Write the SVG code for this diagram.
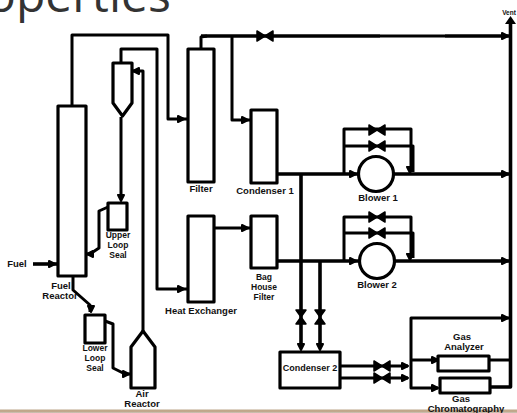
<svg xmlns="http://www.w3.org/2000/svg" width="517" height="413" viewBox="0 0 517 413">
<defs>
<linearGradient id="bar" x1="0" y1="0" x2="0" y2="1"><stop offset="0" stop-color="#ece8e2"/><stop offset="0.45" stop-color="#b89a78"/><stop offset="1" stop-color="#cfc7bc"/></linearGradient>
<path id="valve" d="M-8,-5 L0,0 L-8,5 Z M8,-5 L0,0 L8,5 Z" fill="#000" stroke="#000" stroke-width="1.5" stroke-linejoin="round"/>
<path id="valveV" d="M-5,-7 L0,0 L5,-7 Z M-5,7 L0,0 L5,7 Z" fill="#000" stroke="#000" stroke-width="1.5" stroke-linejoin="round"/>
<path id="a" d="M-3,-3 L3,0 L-3,3 Z" fill="#000" stroke="#000" stroke-width="2" stroke-linejoin="round"/>
</defs>
<style>
.l{fill:none;stroke:#000;stroke-width:3;stroke-linejoin:round}
.t{fill:none;stroke:#000;stroke-width:3.6;stroke-linejoin:round}
.b{fill:#fff;stroke:#000;stroke-width:3.2;stroke-linejoin:round}
text{font-family:"Liberation Sans",Arial,sans-serif;font-size:9.5px;font-weight:bold;fill:#111;text-anchor:middle}
text.s{font-size:8.500px}
.title{font-family:"Open Sans","Noto Sans",sans-serif;font-size:48px;font-weight:400;fill:#333;text-anchor:start}
</style>
<rect x="0" y="409" width="517" height="4" fill="url(#bar)"/>
<text class="title" x="-13" y="12">operties</text>
<g id="connectors">
<path class="l" d="M72,106V35H168V119H187"/>
<path class="l" d="M121,63V49H157V289H187"/>
<path class="l" d="M121,117V198"/>
<path class="l" d="M133,71H143V331"/>
<path class="l" d="M201,49V37L207,36"/>
<path class="t" d="M201,36H380"/>
<path class="l" d="M380,36H445"/>
<path class="t" d="M445,36H510"/>
<path class="l" d="M232,36V120H251"/>
<path class="l" d="M108,207L99,211V248L90,254H86"/>
<path class="t" d="M33,264H57"/>
<path class="l" d="M73,276V290L90,305V312"/>
<path class="l" d="M105,321L113,324V368L125,374H131"/>
<path class="l" d="M214,228H251"/>
<path class="t" d="M277,174H358M394,174H510"/>
<path class="l" d="M344,174V129H411V172"/>
<path class="l" d="M344,146H413V172"/>
<path class="t" d="M301,174V345"/>
<path class="t" d="M277,261H358M394,261H510"/>
<path class="l" d="M344,261V217H411V258"/>
<path class="l" d="M344,233H413V258"/>
<path class="t" d="M320,261V345"/>
<path class="t" d="M510.500,22V387H490"/>
<path class="l" d="M510,318H411V388H438"/>
<path class="l" d="M411,360H438"/>
<path class="l" d="M489,360H510"/>
<path class="l" d="M340,366H408M340,378H408"/>
<use href="#a" transform="translate(181,119)"/>
<use href="#a" transform="translate(136,71) rotate(180)"/>
<use href="#a" transform="translate(245,120)"/>
<use href="#a" transform="translate(121,198) rotate(90)"/>
<use href="#a" transform="translate(90,254) rotate(180)"/>
<use href="#a" transform="translate(52,264)"/>
<use href="#a" transform="translate(91,309) rotate(90)"/>
<use href="#a" transform="translate(126,374)"/>
<use href="#a" transform="translate(181,289)"/>
<use href="#a" transform="translate(245,228)"/>
<use href="#a" transform="translate(505,36)"/>
<use href="#a" transform="translate(505,174)"/>
<use href="#a" transform="translate(505,261)"/>
<use href="#a" transform="translate(505,318)"/>
<use href="#a" transform="translate(353,174)"/>
<use href="#a" transform="translate(353,261)"/>
<use href="#a" transform="translate(410,170) rotate(90)"/>
<use href="#a" transform="translate(410,257) rotate(90)"/>
<use href="#a" transform="translate(301,347) rotate(90)"/>
<use href="#a" transform="translate(320,347) rotate(90)"/>
<use href="#a" transform="translate(405,366)"/>
<use href="#a" transform="translate(405,378)"/>
<use href="#a" transform="translate(435,360)"/>
<use href="#a" transform="translate(435,388)"/>
<path d="M505,24L510.500,16L516,24Z" fill="#000"/>
<use href="#valve" x="265" y="36"/>
<use href="#valve" x="377" y="130"/><use href="#valve" x="377" y="146"/>
<use href="#valve" x="377" y="217"/><use href="#valve" x="377" y="233"/>
<use href="#valve" x="382" y="366"/><use href="#valve" x="382" y="378"/>
<use href="#valveV" x="301" y="317"/><use href="#valveV" x="320" y="317"/>
</g>
<g id="fuel-reactor"><rect class="b" x="58" y="106" width="28" height="170"/><text x="61" y="289">Fuel</text><text x="60" y="299">Reactor</text></g>
<g id="cyclone"><path class="b" d="M113,63H132V103L122.500,116L113,103Z"/></g>
<g id="upper-loop-seal"><rect class="b" x="108" y="203" width="19" height="27"/><text class="s" x="118" y="238">Upper</text><text class="s" x="118" y="248">Loop</text><text class="s" x="118" y="258">Seal</text></g>
<g id="lower-loop-seal"><rect class="b" x="85" y="315" width="20" height="28"/><text class="s" x="95" y="351">Lower</text><text class="s" x="95" y="361">Loop</text><text class="s" x="95" y="371">Seal</text></g>
<g id="air-reactor"><path class="b" d="M131,388V347L143,331L155,347V388Z"/><text x="142" y="397">Air</text><text x="142" y="407">Reactor</text></g>
<g id="filter"><rect class="b" x="188" y="49" width="26" height="133"/><text x="201" y="192">Filter</text></g>
<g id="heat-exchanger"><rect class="b" x="188" y="216" width="26" height="86"/><text x="201" y="314">Heat Exchanger</text></g>
<g id="condenser-1"><rect class="b" x="251" y="110" width="26" height="73"/><text x="265" y="194">Condenser 1</text></g>
<g id="bag-house-filter"><rect class="b" x="251" y="216" width="26" height="52"/><text class="s" x="264" y="280">Bag</text><text class="s" x="264" y="290">House</text><text class="s" x="264" y="300">Filter</text></g>
<g id="blower-1"><circle class="b" cx="376" cy="174" r="17.500"/><text x="378" y="201">Blower 1</text></g>
<g id="blower-2"><circle class="b" cx="377" cy="261" r="17.500"/><text x="377" y="288">Blower 2</text></g>
<g id="condenser-2"><rect class="b" x="280" y="352" width="60" height="36"/><text x="310" y="371" style="font-size:9px">Condenser 2</text></g>
<g id="gas-analyzer"><rect class="b" x="438" y="356" width="51" height="15"/><text x="462" y="340">Gas</text><text x="464" y="350">Analyzer</text></g>
<g id="gas-chromatography"><rect class="b" x="440" y="378" width="50" height="15"/><text x="461" y="402">Gas</text><text x="466" y="412">Chromatography</text></g>
<g id="vent"><text x="509" y="15" style="font-size:6.500px">Vent</text></g>
<g id="fuel"><text x="17" y="267">Fuel</text></g>
</svg>
